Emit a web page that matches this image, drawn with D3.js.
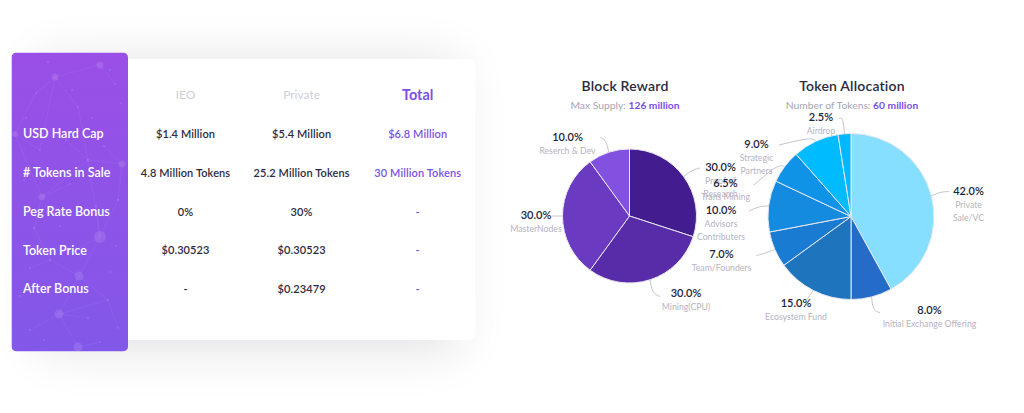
<!DOCTYPE html>
<head>
  <meta charset="utf-8">
  <style>
    html, body { margin: 0; background: #fff; overflow: hidden; }
    svg { display: block; font-family: Lato, sans-serif; }
    .pct { font-size: 11px; font-weight: 600; fill: #23233a; text-anchor: middle; }
    .sub { font-size: 8.7px; fill: #b4b4c2; text-anchor: middle; }
    .title { font-size: 14px; font-weight: 600; fill: #2a2a40; text-anchor: middle; letter-spacing: .2px; }
    .subtitle { font-size: 10.3px; fill: #a5a5b3; text-anchor: middle; }
    .subtitle tspan { fill: #7c4fe6; font-weight: 700; }
    .cell { font-size: 11px; font-weight: 600; fill: #2b2b40; text-anchor: middle; letter-spacing: .1px; }
    .rowname { font-size: 12.5px; font-weight: 600; fill: #fff; }
    .leader { fill: none; stroke: #c4c4ce; stroke-width: 1; }
  </style>
</head>

<body>
  <svg width="1024" height="413"></svg>
  <script src="https://d3js.org/d3.v7.min.js"></script>
  <script type="text/javascript">
    // table
    let columns = ['IEO', 'Private', 'Total'];
    let rowNames = ['USD Hard Cap', '# Tokens in Sale', 'Peg Rate Bonus', 'Token Price', 'After Bonus'];
    let ieoCells = ['$1.4 Million', '4.8 Million Tokens', '0%', '$0.30523', '-'];
    let privateCells = ['$5.4 Million', '25.2 Million Tokens', '30%', '$0.30523', '$0.23479'];
    let totalCells = ['$6.8 Million', '30 Million Tokens', '-', '-', '-'];

    // block reward pie
    let blockLabels = [['Proof of', 'Research'], ['Mining(CPU)'], ['MasterNodes'], ['Reserch & Dev']];
    let blockValues = [30, 30, 30, 10];
    let blockColors = ['#431c8f', '#582ca8', '#6a3bc0', '#8351e0'];

    // token allocation pie
    let tokenLabels = [['Private', 'Sale/VC'], ['Initial Exchange Offering'], ['Ecosystem Fund'], ['Team/Founders'],
                       ['Advisors', 'Contributers'], ['Trans Mining'], ['Strategic', 'Partners'], ['Airdrop']];
    let tokenValues = [42, 8, 15, 7, 10, 6.5, 9, 2.5];
    let tokenColors = ['#86dfff', '#246cc8', '#1f75bd', '#1a7bd3', '#158be0', '#0f93e6', '#00bcff', '#00b8ff'];

    // hand placed labels: text x, percent y, elbow and end of the leader line
    let blockPlaces = [
      { x: 720.5, y: 167, elbow: [692, 170], end: [700, 168] },
      { x: 686, y: 293, elbow: [652, 293], end: [660, 296.5] },
      { x: 536, y: 215, elbow: [556, 216], end: [551.5, 216] },
      { x: 567.5, y: 137, elbow: [606, 140], end: [600.5, 137.5] }
    ];
    let tokenPlaces = [
      { x: 968.5, y: 191, elbow: [940, 192], end: [949, 191.5] },
      { x: 929.5, y: 310, elbow: [873, 311], end: [880, 312.5] },
      { x: 796, y: 303, elbow: [808, 298], end: [806.5, 300] },
      { x: 721.5, y: 254, elbow: [766, 253], end: [756.5, 255.5] },
      { x: 721, y: 210, elbow: [760, 206], end: [749, 211] },
      { x: 725.5, y: 183.5, elbow: [778, 164], end: [754, 185] },
      { x: 756.5, y: 144, elbow: [812, 137], end: [779, 145] },
      { x: 821, y: 117.5, elbow: [843, 118], end: [839, 118] }
    ];

    // faint network drawn over the purple side panel
    let netNodes = [[55, 77, 3.5], [100, 65, 3.5], [100, 237, 6], [79, 276, 4.5], [59, 314, 4.5], [42, 197, 3.5],
                    [122, 164, 3.5], [78, 347, 4.5], [15, 134, 3], [36, 93, 1.2], [115, 84, 1.2], [78, 107, 1.2],
                    [34, 228, 1.2], [88, 160, 1.2], [118, 200, 1.2], [30, 330, 1.2], [108, 300, 1.2], [50, 260, 1.2],
                    [48, 62, 1], [72, 90, 1], [92, 118, 1], [110, 70, 1], [121, 103, 1], [26, 118, 1], [40, 150, 1],
                    [66, 140, 1], [104, 146, 1], [24, 180, 1], [70, 184, 1], [96, 206, 1], [60, 226, 1], [116, 246, 1],
                    [30, 268, 1], [72, 252, 1], [110, 272, 1], [20, 296, 1], [88, 318, 1], [118, 328, 1], [44, 340, 1],
                    [100, 342, 1]];
    let netLinks = [[0, 1], [0, 11], [1, 10], [11, 13], [13, 6], [13, 5], [5, 8], [5, 12], [12, 17], [17, 3], [3, 2],
                    [2, 14], [2, 13], [3, 4], [4, 15], [4, 7], [4, 16], [16, 3], [6, 14], [8, 9], [9, 0], [0, 24],
                    [24, 8], [25, 13], [26, 6], [28, 5], [29, 2], [32, 17], [33, 2], [36, 4], [37, 16], [39, 7]];

    let svg = d3.select('svg');
    let defs = svg.append('defs');

    let blur = defs.append('filter').attr('id', 'soft')
      .attr('x', -0.4).attr('y', -0.6).attr('width', 1.8).attr('height', 2.2);
    blur.append('feGaussianBlur').attr('stdDeviation', 25);

    let grad = defs.append('linearGradient').attr('id', 'panel')
      .attr('x1', 0).attr('y1', 0).attr('x2', 0).attr('y2', 1);
    grad.append('stop').attr('offset', 0).attr('stop-color', '#9a4fe6');
    grad.append('stop').attr('offset', 1).attr('stop-color', '#8258e9');

    defs.append('clipPath').attr('id', 'panelClip').append('rect')
      .attr('x', 11.5).attr('y', 52.5).attr('width', 116.5).attr('height', 299).attr('rx', 5);

    drawTable();
    drawPie(svg.append('g'), {
      title: 'Block Reward', note: 'Max Supply: ', strong: '126 million', titleX: 625,
      cx: 629.5, cy: 216, r: 67,
      values: blockValues, colors: blockColors, labels: blockLabels, places: blockPlaces
    });
    drawPie(svg.append('g'), {
      title: 'Token Allocation', note: 'Number of Tokens: ', strong: '60 million', titleX: 852,
      cx: 851, cy: 216.5, r: 83,
      values: tokenValues, colors: tokenColors, labels: tokenLabels, places: tokenPlaces
    });

    function drawTable() {
      // shadow + card
      svg.append('rect').attr('x', 40).attr('y', 60).attr('width', 418).attr('height', 290)
        .attr('fill', '#14142a').attr('opacity', 0.12).attr('filter', 'url(#soft)');
      svg.append('rect').attr('x', 100).attr('y', 59).attr('width', 375.5).attr('height', 281)
        .attr('rx', 7).attr('fill', '#fff');

      // side panel
      let panel = svg.append('g').attr('clip-path', 'url(#panelClip)');
      panel.append('rect').attr('x', 11.5).attr('y', 52.5).attr('width', 116.5).attr('height', 299).attr('fill', 'url(#panel)');
      panel.selectAll('line').data(netLinks).enter().append('line')
        .attr('x1', function(d) { return netNodes[d[0]][0] })
        .attr('y1', function(d) { return netNodes[d[0]][1] })
        .attr('x2', function(d) { return netNodes[d[1]][0] })
        .attr('y2', function(d) { return netNodes[d[1]][1] })
        .attr('stroke', '#fff').attr('stroke-opacity', 0.08).attr('stroke-width', 0.7);
      panel.selectAll('circle').data(netNodes).enter().append('circle')
        .attr('cx', function(d) { return d[0] })
        .attr('cy', function(d) { return d[1] })
        .attr('r', function(d) { return d[2] })
        .attr('fill', '#fff').attr('fill-opacity', 0.11);

      let x = d3.scalePoint().domain(columns).range([185.5, 417.7]);
      let y = d3.scalePoint().domain(rowNames).range([133.7, 289]);

      svg.selectAll('.rowname').data(rowNames).enter().append('text')
        .attr('class', 'rowname')
        .attr('x', 23)
        .attr('y', function(d) { return y(d) })
        .attr('dy', '.35em')
        .text(function(d) { return d });

      svg.selectAll('.head').data(columns).enter().append('text')
        .attr('class', 'head')
        .attr('x', function(d) { return x(d) })
        .attr('y', 95)
        .attr('dy', '.35em')
        .attr('text-anchor', 'middle')
        .attr('font-size', function(d) { return d == 'Total' ? 14.5 : 12 })
        .attr('font-weight', function(d) { return d == 'Total' ? 700 : 400 })
        .attr('fill', function(d) { return d == 'Total' ? '#7c4fe6' : '#cfcfd6' })
        .text(function(d) { return d });

      let cols = [ieoCells, privateCells, totalCells];
      cols.forEach(function(cells, i) {
        svg.selectAll('.cell' + i).data(cells).enter().append('text')
          .attr('class', 'cell cell' + i)
          .attr('x', x(columns[i]))
          .attr('y', function(d, j) { return y(rowNames[j]) + 0.4 })
          .attr('dy', '.35em')
          .style('fill', i == 2 ? '#7c4fe6' : null)
          .text(function(d) { return d });
      });
    }

    function drawPie(g, o) {
      let slices = d3.pie().sort(null).value(function(d) { return d })(o.values);
      let arc = d3.arc().innerRadius(0).outerRadius(o.r);

      g.append('text').attr('class', 'title').attr('x', o.titleX).attr('y', 91).text(o.title);
      let note = g.append('text').attr('class', 'subtitle').attr('x', o.titleX).attr('y', 108.5).text(o.note);
      note.append('tspan').text(o.strong);

      let body = g.append('g').attr('transform', 'translate(' + o.cx + ',' + o.cy + ')');
      body.selectAll('path').data(slices).enter().append('path')
        .attr('d', arc)
        .attr('fill', function(d, i) { return o.colors[i] })
        .attr('stroke', '#e8e8f4')
        .attr('stroke-width', 1);

      let curve = d3.line().curve(d3.curveBasis);
      g.selectAll('.leader').data(slices).enter().append('path')
        .attr('class', 'leader')
        .attr('d', function(d, i) {
          let mid = (d.startAngle + d.endAngle) / 2;
          let start = [o.cx + o.r * Math.sin(mid), o.cy - o.r * Math.cos(mid)];
          return curve([start, o.places[i].elbow, o.places[i].end]);
        });

      g.selectAll('.pct').data(slices).enter().append('text')
        .attr('class', 'pct')
        .attr('x', function(d, i) { return o.places[i].x })
        .attr('y', function(d, i) { return o.places[i].y })
        .attr('dy', '.35em')
        .text(function(d) { return d.value.toFixed(1) + '%' });

      o.labels.forEach(function(lines, i) {
        lines.forEach(function(line, j) {
          g.append('text').attr('class', 'sub')
            .attr('x', o.places[i].x)
            .attr('y', o.places[i].y + 13.5 + j * 13)
            .attr('dy', '.35em')
            .text(line);
        });
      });
    }
  </script>
</body>
